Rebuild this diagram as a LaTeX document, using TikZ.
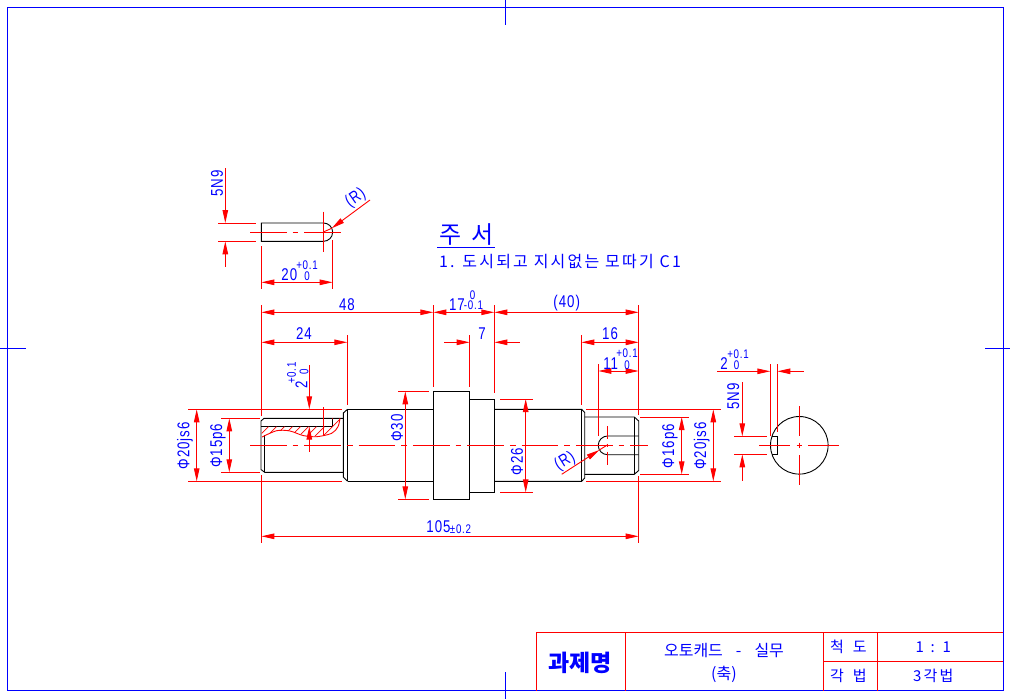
\documentclass[tikz,border=0pt]{standalone}
\usepackage{fontspec}
\setmainfont[FakeStretch=0.78,LetterSpace=6]{Liberation Sans}
\newfontfamily\krfont{Noto Sans CJK KR}
\newfontfamily\krwide[LetterSpace=14]{Noto Sans CJK KR}
\usetikzlibrary{arrows.meta}
\begin{document}
\begin{tikzpicture}[x=1pt,y=-1pt]
    \tikzset{obj/.style= {black,
                          line width=0.9pt},
             sheet/.style= {blue,
                          line width=0.9pt},
             thin red/.style= {red,
                          line width=0.9pt},
             dimboth/.style= {thin red,
                          {Triangle[length=13pt,width=5.5pt]}-{Triangle[length=13pt,width=5.5pt]}},
             dimend/.style= {thin red,
                          -{Triangle[length=13pt,width=5.5pt]}},
             centre/.style= {thin red,
                          dash pattern=on 36.7pt off 6pt on 5.6pt off 6pt},
             dimtxt/.style= {blue,
                          inner sep=0pt,
                          font=\fontsize{17}{17}\selectfont},
             toltxt/.style= {blue,
                          inner sep=0pt,
                          font=\fontsize{12.5}{12.5}\selectfont},
             hantxt/.style= {blue,
                          inner sep=0pt,
                          font=\krfont\fontsize{15}{15}\selectfont},
            }
    \useasboundingbox (0,0) rectangle (1010,699);
    % sheet
    \draw[sheet] (7.5,7.5) rectangle (1003,690.5);
    \draw[sheet] (505,0) -- (505,25);
    \draw[sheet] (505,672) -- (505,699);
    \draw[sheet] (0,348.3) -- (25.7,348.3);
    \draw[sheet] (985,348.3) -- (1010,348.3);
    % title block
    \draw[thin red] (536.3,690.5) |- (1003,632.3);
    \draw[thin red] (625.3,632.3) -- (625.3,690.5);
    \draw[thin red] (823.3,632.3) -- (823.3,690.5);
    \draw[thin red] (877.3,632.3) -- (877.3,690.5);
    \draw[thin red] (823.3,661.3) -- (1003,661.3);
    \path
    (580,663)      node[hantxt,font=\krfont\bfseries\fontsize{23}{23}\selectfont](tm) {과제명}
    (724,650.7)    node[hantxt,font=\krfont\fontsize{16}{16}\selectfont](ts) {오토캐드\hspace*{13pt}-\hspace*{13pt}실무}
    (724,674)      node[hantxt,font=\krfont\fontsize{16}{16}\selectfont](tp) {(축)}
    (848.3,647.3)  node[hantxt](tc) {척\hspace*{9pt}도}
    (933.3,647.3)  node[hantxt](tr) {1 \ : \ 1}
    (848.3,676)    node[hantxt](ta) {각\hspace*{9pt}법}
    (933.3,676)    node[hantxt,font=\krwide\fontsize{15}{15}\selectfont](tn) {3각법}
    (466.5,235)    node[hantxt,font=\krfont\fontsize{24}{24}\selectfont](nh) {주\hspace*{10pt}서}
    (560,261.7)    node[hantxt,font=\krwide\fontsize{16}{16}\selectfont](nt) {1. 도시되고 지시없는 모따기 C1}
    ;
    \draw[sheet] (437,247.3) -- (495,247.3);
    % key seat view
    \draw[obj] (323.5,223) -- (261.3,223) -- (261.3,241.3) -- (323.5,241.3)
        arc[start angle=90,end angle=-90,radius=9.15];
    \draw[centre] (250,232) -- (342.7,232);
    \draw[thin red] (323.3,211.7) -- (323.3,251.7);
    \draw[thin red] (218,223) -- (255.7,223);
    \draw[thin red] (218,241.3) -- (255.7,241.3);
    \draw[dimend] (225.3,168.3) -- (225.3,223);
    \draw[dimend] (225.3,266.7) -- (225.3,241.3);
    \draw[thin red] (261.3,246) -- (261.3,289.3);
    \draw[thin red] (332.7,240) -- (332.7,289.3);
    \draw[dimboth] (261.3,282.3) -- (332.7,282.3);
    \draw[dimend] (370,200) -- (331.7,228.3);
    \draw[thin red] (331.7,228.3) -- (323.3,232);
    % shaft
    \draw[obj] (347.5,409.3) -- (433.3,409.3);
    \draw[obj] (347.5,481.3) -- (433.3,481.3);
    \draw[obj] (433.3,391.3) rectangle (469.7,499.3);
    \draw[obj] (469.7,399) rectangle (494.3,492.3);
    \draw[obj] (494.3,409.3) -- (581.7,409.3) -- (584.7,412.5) -- (584.7,478) -- (581.7,481.3) -- (494.3,481.3);
    \draw[obj] (581.7,409.3) -- (581.7,481.3);
    \draw[obj] (584.7,417) -- (634.3,417) -- (638.7,421) -- (638.7,470.5) -- (634.3,474.3) -- (584.7,474.3);
    \draw[obj] (634.3,417) -- (634.3,474.3);
    \draw[obj] (638.7,436) -- (607.6,436)
        arc[start angle=-90,end angle=-270,radius=9.35] -- (638.7,454.7);
    \draw[obj] (347.5,409.3) -- (347.5,481.3);
    \draw[obj] (347.5,409.3) -- (343.3,413) -- (343.3,477) -- (347.5,481.3);
    \draw[obj] (343.3,418.3) -- (264,418.3) -- (261,421) -- (261,469.5) -- (264.7,472.3) -- (343.3,472.3);
    \draw[obj] (264.7,435) -- (264.7,472.3);
    \draw[obj] (261,426.5) -- (332,426.5) -- (332,418.3);
    % broken out key seat
    \begin{scope}
        \clip (261,426.5) -- (332,426.5) -- (332,418.3) -- (340,418.3) -- (338,426.7) -- (331.7,433.3)
            -- (316.7,436.7) -- (303,435) -- (290,431) -- (276.7,430.7) -- (262,436) -- cycle;
        \foreach \hx in {255,263,...,335}
            \draw[red,line width=0.7pt] (\hx,440) -- (\hx+24,416);
    \end{scope}
    \draw[thin red] plot[smooth] coordinates {(262,437) (276.7,430.7) (290,431) (303,435.5) (316.7,436.7) (331.7,433.3) (338,426.7) (340,418.3)};
    \draw[centre] (250,445.3) -- (648,445.3);
    % left dimensions
    \draw[thin red] (261.3,305) -- (261.3,416);
    \draw[thin red] (261.3,475) -- (261.3,543);
    \draw[thin red] (638.7,305) -- (638.7,415);
    \draw[thin red] (638.7,476) -- (638.7,543);
    \draw[thin red] (347.3,335) -- (347.3,405);
    \draw[thin red] (433.3,305) -- (433.3,387);
    \draw[thin red] (469.7,335) -- (469.7,387);
    \draw[thin red] (494.3,305) -- (494.3,393);
    \draw[thin red] (581.3,335) -- (581.3,405);
    \draw[thin red] (598.3,364) -- (598.3,436);
    \draw[dimboth] (261.3,312.3) -- (433.3,312.3);
    \draw[dimboth] (433.3,312.3) -- (494.3,312.3);
    \draw[dimboth] (494.3,312.3) -- (638.7,312.3);
    \draw[dimboth] (261.3,342.3) -- (347.3,342.3);
    \draw[dimend] (444,342.3) -- (469.7,342.3);
    \draw[dimend] (519.7,342.3) -- (494.3,342.3);
    \draw[dimboth] (581.3,342.3) -- (638.7,342.3);
    \draw[dimboth] (598.3,371) -- (638.7,371);
    \draw[dimboth] (261.3,536.3) -- (638.7,536.3);
    \draw[thin red] (188,409.3) -- (342,409.3);
    \draw[thin red] (188,481.3) -- (342,481.3);
    \draw[thin red] (221,418.3) -- (260,418.3);
    \draw[thin red] (221,472.3) -- (260,472.3);
    \draw[dimboth] (196.7,409.3) -- (196.7,481.3);
    \draw[dimboth] (229.3,418.3) -- (229.3,472.3);
    \draw[dimend] (309.3,365) -- (309.3,409.3);
    \draw[dimend] (309.3,451.7) -- (309.3,426.5);
    \draw[thin red] (323.3,407.3) -- (323.3,436);
    \draw[thin red] (398,391.3) -- (429,391.3);
    \draw[thin red] (398,499.3) -- (429,499.3);
    \draw[dimboth] (405.3,391.3) -- (405.3,499.3);
    \draw[thin red] (500,399) -- (532.7,399);
    \draw[thin red] (500,492.3) -- (532.7,492.3);
    \draw[dimboth] (525.7,399) -- (525.7,492.3);
    \draw[thin red] (607.3,426) -- (607.3,439);
    \draw[thin red] (607.3,443.5) -- (607.3,447);
    \draw[thin red] (607.3,451.5) -- (607.3,464.7);
    \draw[dimend] (561.7,474.3) -- (599.3,450);
    \draw[thin red] (599.3,450) -- (607.3,445);
    % right dimensions
    \draw[thin red] (586,409.3) -- (720.7,409.3);
    \draw[thin red] (586,481.3) -- (720.7,481.3);
    \draw[thin red] (640,417) -- (688.7,417);
    \draw[thin red] (640,474.3) -- (688.7,474.3);
    \draw[dimboth] (681.7,417) -- (681.7,474.3);
    \draw[dimboth] (713.3,409.3) -- (713.3,481.3);
    % end view
    \draw[obj] (799.3,445.3) circle[radius=28.8];
    \draw[obj] (771.5,436.3) -- (777.7,436.3) -- (777.7,454.3) -- (771.5,454.3);
    \draw[thin red] (759.3,445.3) -- (790,445.3);
    \draw[thin red] (796.5,445.3) -- (802.3,445.3);
    \draw[thin red] (808,445.3) -- (838.7,445.3);
    \draw[thin red] (799.3,406) -- (799.3,436);
    \draw[thin red] (799.3,442.5) -- (799.3,448.3);
    \draw[thin red] (799.3,455) -- (799.3,485.3);
    \draw[thin red] (770.3,364) -- (770.3,436);
    \draw[thin red] (777.3,364) -- (777.3,431.7);
    \draw[dimend] (717.3,371.3) -- (770.3,371.3);
    \draw[dimend] (803.7,371.3) -- (777.3,371.3);
    \draw[thin red] (734,436.3) -- (766.7,436.3);
    \draw[thin red] (734,454.3) -- (766.7,454.3);
    \draw[dimend] (742.3,382) -- (742.3,436.3);
    \draw[dimend] (742.3,480.7) -- (742.3,454.3);
    % dimension texts
    \path
    (347,305)      node[dimtxt](d48) {48}
    (304,334)      node[dimtxt](d24) {24}
    (457,304.5)    node[dimtxt](d17) {17}
    (473.5,305)    node[toltxt](d17b) {-0.1}
    (472.7,295)    node[toltxt](d17a) {0}
    (566.7,303.5)  node[dimtxt](d40) {(40)}
    (482,333.5)    node[dimtxt](d7) {7}
    (610,333.7)    node[dimtxt](d16) {16}
    (610.7,364)    node[dimtxt](d11) {11}
    (627,353)      node[toltxt](d11a) {+0.1}
    (627,365)      node[toltxt](d11b) {0}
    (438.5,527)    node[dimtxt](d105) {105}
    (460.5,529)    node[toltxt](d105t) {±0.2}
    (185,445.7)    node[dimtxt,rotate=90](dl20) {Φ20js6}
    (218,445.7)    node[dimtxt,rotate=90](dl15) {Φ15p6}
    (397,428)      node[dimtxt,rotate=90](d30) {Φ30}
    (517,461.7)    node[dimtxt,rotate=90](d26) {Φ26}
    (670,446)      node[dimtxt,rotate=90](dr16) {Φ16p6}
    (701.7,446)    node[dimtxt,rotate=90](dr20) {Φ20js6}
    (301.5,385)    node[dimtxt,rotate=90](kw2) {2}
    (291.5,373)    node[toltxt,rotate=90](kw2a) {+0.1}
    (304,372)      node[toltxt,rotate=90](kw2b) {0}
    (565,461.7)    node[dimtxt,rotate=32](rs) {(R)}
    (355.7,198.3)  node[dimtxt,rotate=35](rk) {(R)}
    (217,183.3)    node[dimtxt,rotate=90](k5) {5N9}
    (289.3,275)    node[dimtxt](k20) {20}
    (307,265)      node[toltxt](k20a) {+0.1}
    (307,275.7)    node[toltxt](k20b) {0}
    (724,363.3)    node[dimtxt](e2) {2}
    (738,354)      node[toltxt](e2a) {+0.1}
    (736.7,365)    node[toltxt](e2b) {0}
    (733.3,396.7)  node[dimtxt,rotate=90](e5) {5N9}
    ;
\end{tikzpicture}
\end{document}
